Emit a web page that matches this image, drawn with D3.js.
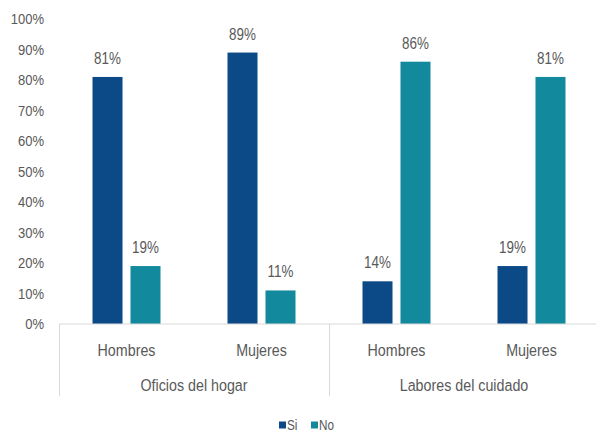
<!DOCTYPE html>
<html>
<head>
<meta charset="utf-8">
<script src="https://cdn.jsdelivr.net/npm/d3@7"></script>
<style>
  html, body { margin: 0; padding: 0; background: #fff; }
  svg { display: block; }
  text { font-family: "Liberation Sans", Arial, sans-serif; fill: #595959; }
</style>
</head>
<body>
<svg id="chart" width="596" height="434"></svg>
<script>
// Survey answers by activity group and sex (share of respondents)
const groups = ["Oficios del hogar", "Labores del cuidado"];
const sexes = ["Hombres", "Mujeres"];
const series = ["Si", "No"];
const siValues = [0.81, 0.89, 0.14, 0.19];
const noValues = [0.19, 0.11, 0.86, 0.81];
const yTicks = [0, 0.1, 0.2, 0.3, 0.4, 0.5, 0.6, 0.7, 0.8, 0.9, 1.0];
const colors = { Si: "#0c4a87", No: "#13899e" };

const categories = [];
groups.forEach(g => sexes.forEach(s => categories.push({ group: g, sex: s, key: g + "|" + s })));
categories.forEach((c, i) => { c.Si = siValues[i]; c.No = noValues[i]; });

const svg = d3.select("#chart");
const plotLeft = 59, plotRight = 599, plotTop = 19, plotBottom = 324;
const squeeze = 0.84; // condensed look for the labels

// place a text at (x, y) and compress it horizontally around its anchor
function place(sel, fx, fy) {
  sel.attr("transform", (d, i) => `translate(${fx(d, i)},${fy(d, i)}) scale(${squeeze},1)`);
}

const y = d3.scaleLinear().domain([0, 1]).range([plotBottom, plotTop]);
const x0 = d3.scaleBand().domain(categories.map(c => c.key)).range([plotLeft, plotRight]).padding(0);
const x1 = d3.scaleBand().domain(series)
  .range([x0.bandwidth() / 2 - 34, x0.bandwidth() / 2 + 34])
  .paddingInner(0.21).paddingOuter(0);
const xg = d3.scaleBand().domain(groups).range([plotLeft, plotRight]).padding(0);

// y axis labels only
const yAxis = d3.axisLeft(y).tickValues(yTicks).tickFormat(d3.format(".0%")).tickSize(0).tickPadding(0);
const yg = svg.append("g").attr("transform", `translate(44,0)`).call(yAxis);
yg.select(".domain").remove();
yg.selectAll("text").style("font-size", "15.5px").attr("fill", "#595959")
  .style("font-family", '"Liberation Sans", Arial, sans-serif')
  .attr("transform", `scale(${squeeze},1)`);

// bars
const cat = svg.append("g").selectAll("g").data(categories).join("g")
  .attr("transform", d => `translate(${x0(d.key)},0)`);
cat.selectAll("rect").data(d => series.map(s => ({ s, v: d[s] }))).join("rect")
  .attr("x", d => x1(d.s))
  .attr("width", x1.bandwidth())
  .attr("y", d => y(d.v))
  .attr("height", d => y(0) - y(d.v))
  .attr("fill", d => colors[d.s]);
cat.selectAll("text.val").data(d => series.map(s => ({ s, v: d[s] }))).join("text")
  .attr("class", "val")
  .attr("text-anchor", "middle")
  .style("font-size", "16px")
  .text(d => d3.format(".0%")(d.v))
  .call(place, d => x1(d.s) + x1.bandwidth() / 2, d => y(d.v) - 13);

// category axis
const axisColor = "#d9d9d9";
svg.append("line").attr("x1", plotLeft).attr("x2", 596).attr("y1", plotBottom).attr("y2", plotBottom)
  .attr("stroke", axisColor).attr("stroke-width", 1);
xg.domain().forEach(g => {
  svg.append("line").attr("x1", xg(g) + 0.5).attr("x2", xg(g) + 0.5)
    .attr("y1", plotBottom).attr("y2", 396).attr("stroke", axisColor);
});
svg.append("g").selectAll("text").data(categories).join("text")
  .attr("text-anchor", "middle")
  .style("font-size", "17px")
  .text(d => d.sex)
  .call(place, d => x0(d.key) + x0.bandwidth() / 2, () => 356);
svg.append("g").selectAll("text").data(groups).join("text")
  .attr("text-anchor", "middle")
  .style("font-size", "17px")
  .text(d => d)
  .call(place, d => xg(d) + xg.bandwidth() / 2, () => 391);

// legend
const legend = svg.append("g").attr("transform", "translate(279,425)");
const lx = [0, 32];
series.forEach((s, i) => {
  const g = legend.append("g").attr("transform", `translate(${lx[i]},0)`);
  g.append("rect").attr("x", 0).attr("y", -3.5).attr("width", 7).attr("height", 7).attr("fill", colors[s]);
  g.append("text").style("font-size", "14px").text(s)
    .attr("transform", `translate(8,5) scale(${squeeze},1)`);
});
</script>
</body>
</html>
